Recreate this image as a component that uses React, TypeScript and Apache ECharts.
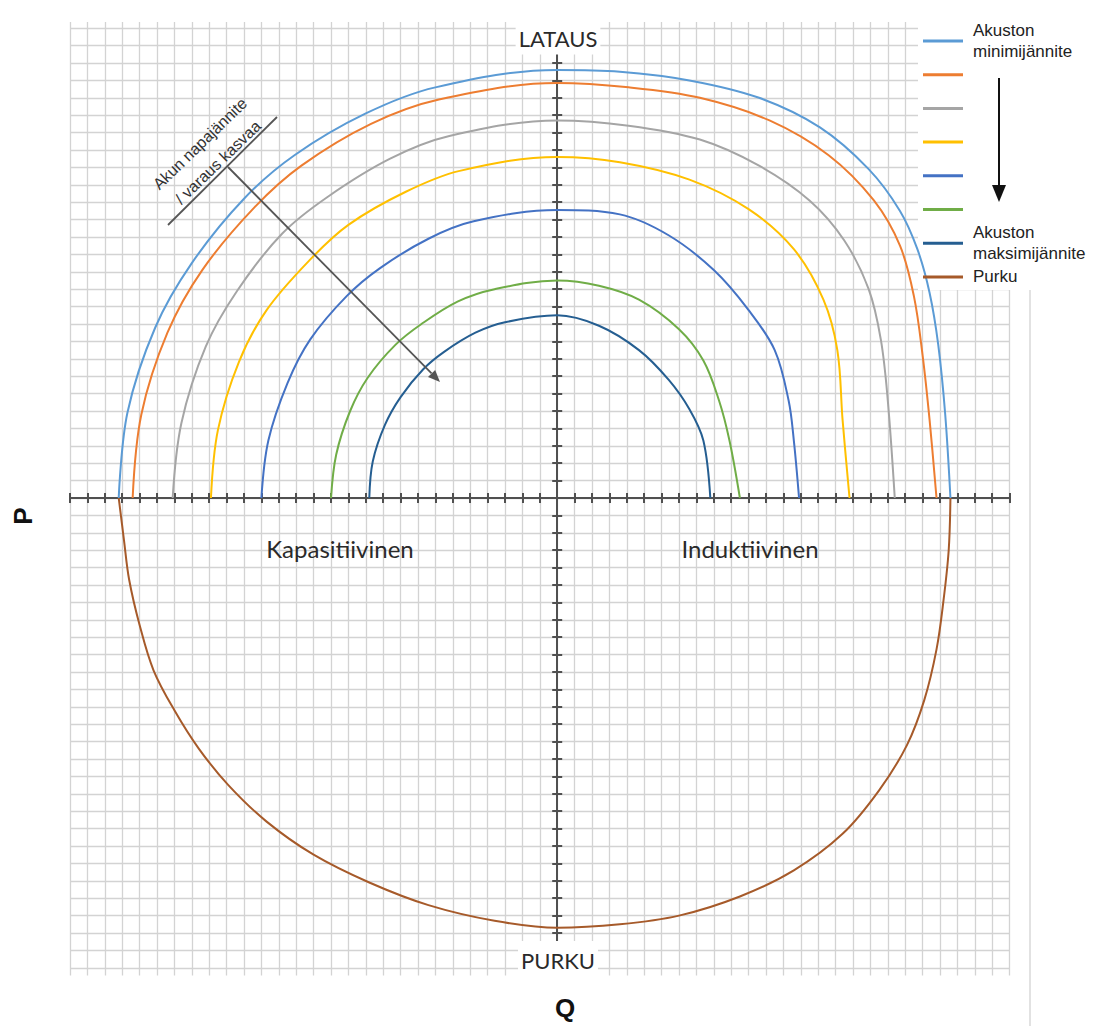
import React, { useEffect, useRef } from 'react';
import * as echarts from 'echarts';

// Series names (legend) and colours
const seriesNames = [
  'Akuston minimijännite',
  'Jännite 2',
  'Jännite 3',
  'Jännite 4',
  'Jännite 5',
  'Jännite 6',
  'Akuston maksimijännite',
  'Purku',
];
const seriesColors = ['#5B9BD5', '#ED7D31', '#A5A5A5', '#FFC000', '#4472C4', '#70AD47', '#255E91', '#A65A2A'];

// Legend text lines
const legendTexts = [['Akuston', 'minimijännite'], [], [], [], [], [], ['Akuston', 'maksimijännite'], ['Purku']];

// Curves: [Q, P] in grid units (one unit = one tick)
const curveMin = [[-25.2, 0], [-24.7, 4.9], [-23.1, 9.8], [-21.0, 13.5], [-18.0, 17.2], [-15.1, 19.7], [-11.0, 22.1], [-7.0, 23.6], [0, 24.6], [3.6, 24.5], [7.6, 24.0], [11.6, 23.0], [15.1, 21.3], [17.9, 18.9], [19.7, 16.5], [20.7, 14.3], [21.4, 11.8], [21.9, 8.8], [22.3, 4.8], [22.6, 0]];
const curve2 = [[-24.4, 0], [-23.9, 4.8], [-22.4, 9.5], [-20.4, 13.1], [-17.4, 16.7], [-14.7, 19.1], [-10.7, 21.5], [-6.8, 22.9], [0, 23.85], [4.1, 23.6], [8.2, 23.0], [12.2, 21.7], [15.6, 19.7], [18.2, 17.1], [19.7, 14.5], [20.5, 11.6], [21.0, 8.2], [21.4, 4.5], [21.8, 0]];
const curve3 = [[-22.1, 0], [-21.6, 4.3], [-20.2, 8.7], [-18.4, 11.9], [-15.8, 15.2], [-13.2, 17.3], [-9.6, 19.5], [-6.2, 20.8], [0, 21.7], [4.1, 21.4], [8.2, 20.6], [11.6, 19.1], [14.5, 17.1], [16.5, 14.8], [17.9, 12.0], [18.6, 9.1], [19.0, 5.6], [19.4, 0]];
const curve4 = [[-19.9, 0], [-19.5, 3.9], [-18.3, 7.8], [-16.7, 10.8], [-14.2, 13.7], [-12.0, 15.7], [-8.7, 17.6], [-5.6, 18.8], [0, 19.6], [3.6, 19.3], [7.6, 18.3], [11.0, 16.6], [13.6, 14.3], [15.3, 11.4], [16.1, 8.5], [16.4, 4.5], [16.8, 0]];
const curve5 = [[-17.0, 0], [-16.6, 3.3], [-15.5, 6.6], [-14.2, 9.1], [-12.1, 11.6], [-10.2, 13.2], [-7.4, 14.9], [-4.8, 15.9], [0, 16.55], [3.6, 16.3], [6.4, 15.1], [9.0, 13.1], [11.0, 10.8], [12.5, 8.5], [13.3, 5.6], [13.6, 3.3], [13.9, 0]];
const curve6 = [[-13.0, 0], [-12.7, 2.5], [-11.9, 5.0], [-10.9, 6.9], [-9.3, 8.8], [-7.8, 10.0], [-5.7, 11.3], [-3.6, 12.0], [0, 12.5], [2.4, 12.2], [4.7, 11.4], [7.0, 9.7], [8.4, 7.9], [9.3, 5.6], [9.9, 3.3], [10.5, 0]];
const curveMax = [[-10.8, 0], [-10.6, 2.1], [-9.9, 4.2], [-9.0, 5.8], [-7.7, 7.4], [-6.5, 8.4], [-4.7, 9.5], [-3.0, 10.1], [0, 10.5], [2.4, 9.9], [4.7, 8.5], [6.4, 6.8], [7.6, 5.1], [8.4, 3.3], [8.8, 0]];
const curvePurku = [[-25.2, 0], [-24.9, -2.4], [-24.6, -4.7], [-24.0, -7.3], [-23.2, -9.9], [-22.0, -12.2], [-20.6, -14.4], [-18.9, -16.5], [-16.7, -18.6], [-14.0, -20.5], [-10.8, -22.1], [-7.4, -23.4], [-3.6, -24.3], [0, -24.7], [3.6, -24.5], [7.0, -24.0], [10.5, -22.9], [13.6, -21.4], [16.4, -19.3], [18.5, -16.8], [20.1, -14.2], [21.1, -11.6], [21.8, -8.7], [22.2, -5.9], [22.5, -3.0], [22.6, 0]];

const curves = [curveMin, curve2, curve3, curve4, curve5, curve6, curveMax, curvePurku];

// Axis ranges (grid units)
const qMin = -28;
const qMax = 26;
const pMin = -28;
const pMax = 28;

export default function App() {
  const ref = useRef<HTMLDivElement>(null);

  useEffect(() => {
    if (!ref.current) return;
    const chart = echarts.init(ref.current, null, { renderer: 'svg' });

    const axisLineStyle = { color: '#505050', width: 2 };
    const tickStyle = { color: '#505050', width: 2 };

    const mainAxis = (min: number, max: number, position: string) => ({
      type: 'value',
      min,
      max,
      interval: 1,
      position,
      axisLabel: { show: false },
      axisLine: { show: true, onZero: true, onZeroAxisIndex: 0, lineStyle: axisLineStyle },
      axisTick: { show: true, length: 5, lineStyle: tickStyle },
      splitLine: { show: true, lineStyle: { color: '#d3d3d3', width: 1.3 } },
    });
    const secondAxis = (min: number, max: number, position: string) => ({
      type: 'value',
      min,
      max,
      interval: 1,
      position,
      axisLabel: { show: false },
      axisLine: { show: true, onZero: true, onZeroAxisIndex: 0, lineStyle: axisLineStyle },
      axisTick: { show: true, length: 5, lineStyle: tickStyle },
      splitLine: { show: false },
    });

    const legendGraphics: any[] = [];
    const legendTop = 41;
    const legendStep = 33.7;
    legendTexts.forEach((lines, i) => {
      if (!lines.length) return;
      legendGraphics.push({
        type: 'text',
        z: 10,
        style: {
          text: lines.join('\n'),
          x: 973,
          y: legendTop + i * legendStep,
          font: '17px "Liberation Sans", Arial, sans-serif',
          lineHeight: 21,
          fill: '#222',
          align: 'left',
          verticalAlign: 'middle',
        },
      });
    });

    const arrowTip = [440, 382];
    const arrowStart = [228, 167];
    const dx = arrowTip[0] - arrowStart[0];
    const dy = arrowTip[1] - arrowStart[1];
    const len = Math.sqrt(dx * dx + dy * dy);
    const ux = dx / len;
    const uy = dy / len;
    const headL = 12;
    const headW = 5;
    const bx = arrowTip[0] - ux * headL;
    const by = arrowTip[1] - uy * headL;

    chart.setOption({
      animation: false,
      backgroundColor: '#ffffff',
      grid: { left: 70, right: 92.4, top: 10.8, bottom: 40.8 },
      xAxis: [mainAxis(qMin, qMax, 'bottom'), secondAxis(qMin, qMax, 'top')],
      yAxis: [mainAxis(pMin, pMax, 'left'), secondAxis(pMin, pMax, 'right')],
      legend: {
        show: true,
        data: seriesNames,
        orient: 'vertical',
        left: 923,
        top: 39.5,
        padding: 0,
        icon: 'rect',
        itemWidth: 40,
        itemHeight: 3,
        itemGap: 30.7,
        selectedMode: false,
        formatter: () => '',
        textStyle: { fontSize: 10 },
        z: 10,
      },
      series: curves.map((data, i) => ({
        name: seriesNames[i],
        type: 'line',
        data,
        smooth: 0.35,
        symbol: 'none',
        showSymbol: false,
        lineStyle: { color: seriesColors[i], width: 2 },
        itemStyle: { color: seriesColors[i] },
        z: 3,
      })),
      graphic: [
        // hide grid overflow above/below the drawing area
        { type: 'rect', z: 1, shape: { x: 60, y: 0, width: 1000, height: 22 }, style: { fill: '#fff' } },
        { type: 'rect', z: 1, shape: { x: 60, y: 975.5, width: 1000, height: 20 }, style: { fill: '#fff' } },
        // legend box
        { type: 'rect', z: 1, shape: { x: 918, y: 0, width: 112, height: 290 }, style: { fill: '#fff' } },
        { type: 'line', z: 1, shape: { x1: 1030, y1: 290, x2: 1030, y2: 1026 }, style: { stroke: '#d9d9d9', lineWidth: 1.5 } },
        ...legendGraphics,
        // legend arrow
        { type: 'line', z: 10, shape: { x1: 999, y1: 78, x2: 999, y2: 190 }, style: { stroke: '#111', lineWidth: 2 } },
        { type: 'polygon', z: 10, shape: { points: [[999, 202], [992, 185], [1006, 185]] }, style: { fill: '#111' } },
        // axis titles
        {
          type: 'text', z: 10,
          style: { text: 'LATAUS', x: 558, y: 38, font: '22px Lato, "Open Sans", sans-serif', fill: '#2a2a2a', align: 'center', verticalAlign: 'middle', backgroundColor: '#fff', padding: [5, 3, 6, 3] },
        },
        {
          type: 'text', z: 10,
          style: { text: 'PURKU', x: 558, y: 960, font: '22px Lato, "Open Sans", sans-serif', fill: '#2a2a2a', align: 'center', verticalAlign: 'middle', backgroundColor: '#fff', padding: [6, 3, 10, 3] },
        },
        {
          type: 'text', z: 10,
          style: { text: 'Kapasitiivinen', x: 340, y: 548, font: '24px Lato, "Open Sans", sans-serif', fill: '#2a2a2a', align: 'center', verticalAlign: 'middle' },
        },
        {
          type: 'text', z: 10,
          style: { text: 'Induktiivinen', x: 750, y: 548, font: '24px Lato, "Open Sans", sans-serif', fill: '#2a2a2a', align: 'center', verticalAlign: 'middle' },
        },
        {
          type: 'text', z: 10, x: 23, y: 516, rotation: Math.PI / 2,
          style: { text: 'P', x: 0, y: 0, font: 'bold 26px "Liberation Sans", Arial, sans-serif', fill: '#111', align: 'center', verticalAlign: 'middle' },
        },
        {
          type: 'text', z: 10,
          style: { text: 'Q', x: 565, y: 1008, font: 'bold 26px "Liberation Sans", Arial, sans-serif', fill: '#111', align: 'center', verticalAlign: 'middle' },
        },
        // annotation
        {
          type: 'text', z: 10, x: 209, y: 153, rotation: (44 * Math.PI) / 180,
          style: { text: 'Akun napajännite\n/ varaus kasvaa', x: 0, y: 0, font: '16px "Liberation Sans", Arial, sans-serif', lineHeight: 26, fill: '#333', align: 'center', verticalAlign: 'middle' },
        },
        { type: 'line', z: 10, shape: { x1: 168, y1: 225, x2: 277, y2: 117 }, style: { stroke: '#555', lineWidth: 1.8 } },
        { type: 'line', z: 10, shape: { x1: arrowStart[0], y1: arrowStart[1], x2: bx, y2: by }, style: { stroke: '#555', lineWidth: 1.8 } },
        {
          type: 'polygon', z: 10,
          shape: { points: [[arrowTip[0], arrowTip[1]], [bx - uy * headW, by + ux * headW], [bx + uy * headW, by - ux * headW]] },
          style: { fill: '#555' },
        },
      ],
    });

    return () => chart.dispose();
  }, []);

  return (
    <div
      ref={ref}
      style={{ position: 'fixed', left: 0, top: 0, width: 1102, height: 1026, background: '#fff' }}
    />
  );
}
